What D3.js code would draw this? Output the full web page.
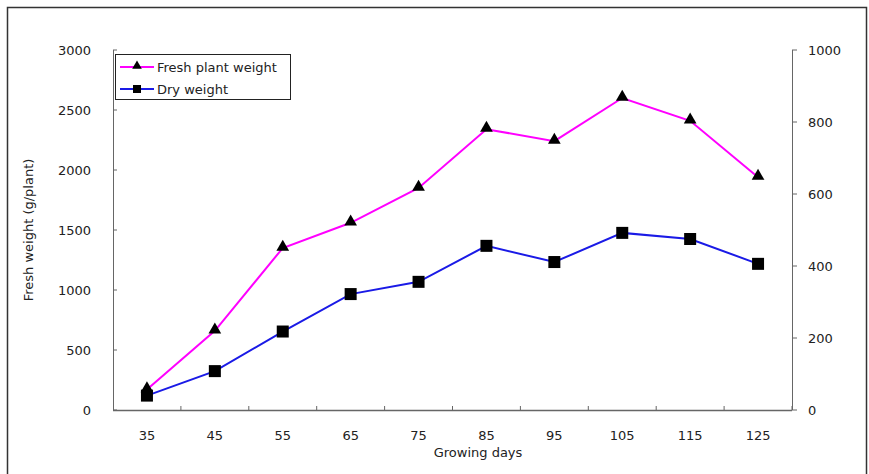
<!DOCTYPE html>
<meta charset="utf-8">
<style>
    body { margin: 0; background: #fff; }
    text { font-family: "DejaVu Sans", sans-serif; fill: #222; }
    .axis path, .axis line { stroke: #666; }
</style>
<body>
<script src="https://d3js.org/d3.v7.min.js"></script>
<script>
var days = ["35", "45", "55", "65", "75", "85", "95", "105", "115", "125"];
var freshWeight = [170, 660, 1350, 1560, 1850, 2340, 2240, 2600, 2410, 1940];
var dryWeight = [40, 108, 218, 322, 356, 456, 411, 492, 475, 406];
var leftTicks = [0, 500, 1000, 1500, 2000, 2500, 3000];
var rightTicks = [0, 200, 400, 600, 800, 1000];

var W = 869, H = 474;
var m = {left: 113, right: 792, top: 50, bottom: 410};

var svg = d3.select("body").append("svg").attr("width", W).attr("height", H);

// outer frame
svg.append("rect").attr("x", 7.5).attr("y", 7.5).attr("width", 859).attr("height", 470)
    .attr("fill", "none").attr("stroke", "#333").attr("stroke-width", 1.5);

var x = d3.scaleBand().domain(days).range([m.left, m.right]);
var yL = d3.scaleLinear().domain([0, 3000]).range([m.bottom, m.top]);
var yR = d3.scaleLinear().domain([0, 1000]).range([m.bottom, m.top]);

// x axis: ticks at category boundaries, pointing up
var gx = svg.append("g").attr("class", "axis");
gx.append("line").attr("x1", m.left).attr("x2", m.right).attr("y1", m.bottom + 0.5).attr("y2", m.bottom + 0.5)
    .attr("stroke-width", 1.5);
gx.selectAll(".tk").data(days).enter().append("line")
    .attr("x1", d => x(d) + x.bandwidth()).attr("x2", d => x(d) + x.bandwidth())
    .attr("y1", m.bottom).attr("y2", m.bottom - 4);
gx.selectAll("text").data(days).enter().append("text")
    .attr("x", d => x(d) + x.bandwidth() / 2).attr("y", m.bottom + 30)
    .attr("text-anchor", "middle").attr("font-size", 13).text(d => d);

// left axis, ticks inward
var gl = svg.append("g").attr("class", "axis");
gl.append("line").attr("x1", m.left + 0.5).attr("x2", m.left + 0.5).attr("y1", m.top).attr("y2", m.bottom);
gl.selectAll(".tk").data(leftTicks).enter().append("line")
    .attr("x1", m.left).attr("x2", m.left + 4).attr("y1", d => yL(d)).attr("y2", d => yL(d));
gl.selectAll("text").data(leftTicks).enter().append("text")
    .attr("x", 91).attr("y", d => yL(d) + 5).attr("text-anchor", "end")
    .attr("font-size", 13).text(d => d);

// right axis, ticks outward
var gr = svg.append("g").attr("class", "axis");
gr.append("line").attr("x1", m.right + 0.5).attr("x2", m.right + 0.5).attr("y1", m.top).attr("y2", m.bottom);
gr.selectAll(".tk").data(rightTicks).enter().append("line")
    .attr("x1", m.right).attr("x2", m.right + 5).attr("y1", d => yR(d)).attr("y2", d => yR(d));
gr.selectAll("text").data(rightTicks).enter().append("text")
    .attr("x", 808).attr("y", d => yR(d) + 5).attr("text-anchor", "start")
    .attr("font-size", 13).text(d => d);

// axis titles
svg.append("text").attr("transform", "translate(33,230) rotate(-90)")
    .attr("text-anchor", "middle").attr("font-size", 13).text("Fresh weight (g/plant)");
svg.append("text").attr("x", 478).attr("y", 457)
    .attr("text-anchor", "middle").attr("font-size", 13).text("Growing days");

var cx = d => x(d) + x.bandwidth() / 2;
var tri = d3.symbol().type(d3.symbolTriangle).size(70);

// fresh weight
svg.append("path").datum(freshWeight)
    .attr("fill", "none").attr("stroke", "#ff00ff").attr("stroke-width", 2)
    .attr("d", d3.line().x((d, i) => cx(days[i])).y(d => yL(d)));
svg.selectAll(".tri").data(freshWeight).enter().append("path")
    .attr("transform", (d, i) => "translate(" + cx(days[i]) + "," + (yL(d) - 1) + ")")
    .attr("d", tri).attr("fill", "#000");

// dry weight
svg.append("path").datum(dryWeight)
    .attr("fill", "none").attr("stroke", "#1a1ae6").attr("stroke-width", 2)
    .attr("d", d3.line().x((d, i) => cx(days[i])).y(d => yR(d)));
svg.selectAll(".sq").data(dryWeight).enter().append("rect")
    .attr("x", (d, i) => cx(days[i]) - 6).attr("y", d => yR(d) - 6)
    .attr("width", 12).attr("height", 12).attr("fill", "#000");

// legend
var lg = svg.append("g");
lg.append("rect").attr("x", 115.5).attr("y", 54.5).attr("width", 175).attr("height", 45)
    .attr("fill", "#fff").attr("stroke", "#222");
var items = [
    {name: "Fresh plant weight", color: "#ff00ff", y: 67, shape: "tri"},
    {name: "Dry weight", color: "#1a1ae6", y: 89, shape: "sq"}
];
items.forEach(function(it) {
    lg.append("line").attr("x1", 120).attr("x2", 154).attr("y1", it.y).attr("y2", it.y)
        .attr("stroke", it.color).attr("stroke-width", 2);
    if (it.shape == "tri")
        lg.append("path").attr("transform", "translate(137," + (it.y - 1) + ")").attr("d", d3.symbol().type(d3.symbolTriangle).size(40));
    else
        lg.append("rect").attr("x", 133).attr("y", it.y - 4).attr("width", 8).attr("height", 8);
    lg.append("text").attr("x", 157).attr("y", it.y + 5).attr("font-size", 13).text(it.name);
});
</script>
</body>
</html>
